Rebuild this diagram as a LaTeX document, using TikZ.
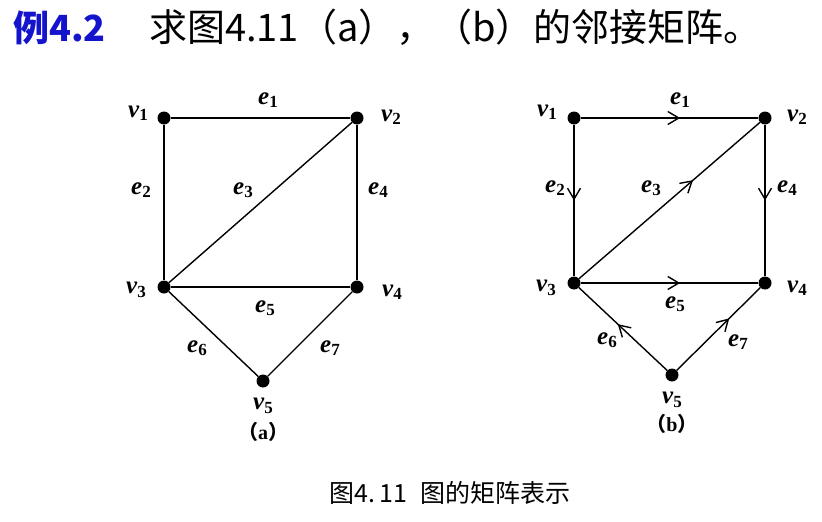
\documentclass[tikz,border=0pt]{standalone}
\usepackage{fontspec}
\setmainfont{Liberation Serif}
\newfontfamily\cjk{Noto Sans CJK SC}
\usetikzlibrary{arrows.meta,decorations.markings}
\definecolor{titleblue}{RGB}{20,20,205}
\tikzset{
  vert/.style={circle, fill=black, inner sep=0pt, minimum size=13pt},
  edge/.style={line width=1.4pt},
  lab/.style={font=\fontsize{25}{25}\selectfont\bfseries\itshape, inner sep=0pt},
  subcap/.style={font=\fontsize{20}{20}\selectfont\bfseries, inner sep=0pt},
  midarrow/.style={postaction={decorate}, decoration={markings,
    mark=at position #1 with {\arrow{Straight Barb[length=11pt,width=13pt,line width=1.4pt]}}}}
}
\newcommand\sub[2]{#1\raisebox{-0.3ex}{\fontsize{17}{17}\selectfont\upshape #2}}

\begin{document}
\begin{tikzpicture}[x=1pt,y=-1pt]
  \useasboundingbox (0,0) rectangle (822,522);
  % title
  \node (ex) [anchor=base west, inner sep=0pt, text=titleblue, font=\cjk\fontsize{36}{36}\selectfont\bfseries] at (13,41) {例4.2};
  \node (task) [anchor=base west, inner sep=0pt, font=\cjk\fontsize{38}{38}\selectfont] at (149,41) {求图4.11（a），（b）的邻接矩阵。};

  % graph (a)
  \node (a1) [vert] at (164,118) {};
  \node (a2) [vert] at (357,118) {};
  \node (a3) [vert] at (164,287) {};
  \node (a4) [vert] at (357,287) {};
  \node (a5) [vert] at (263,381) {};
  \draw[edge] (a1) -- (a2);
  \draw[edge] (a1) -- (a3);
  \draw[edge] (a3) -- (a2);
  \draw[edge] (a2) -- (a4);
  \draw[edge] (a3) -- (a4);
  \draw[edge] (a3) -- (a5);
  \draw[edge] (a5) -- (a4);
  \node (la1) [lab] at (138,113) {\sub{v}{1}};
  \node (la2) [lab] at (391,117) {\sub{v}{2}};
  \node (la3) [lab] at (136,290) {\sub{v}{3}};
  \node (la4) [lab] at (392,292) {\sub{v}{4}};
  \node (la5) [lab] at (263,406) {\sub{v}{5}};
  \node (ea1) [lab] at (268,100) {\sub{e}{1}};
  \node (ea2) [lab] at (141,190) {\sub{e}{2}};
  \node (ea3) [lab] at (243,190) {\sub{e}{3}};
  \node (ea4) [lab] at (378,190) {\sub{e}{4}};
  \node (ea5) [lab] at (265,308) {\sub{e}{5}};
  \node (ea6) [lab] at (197,348) {\sub{e}{6}};
  \node (ea7) [lab] at (330,348) {\sub{e}{7}};
  \node (capa) [subcap] at (263,432) {\cjk（\rmfamily a\cjk）};

  % graph (b)
  \node (b1) [vert] at (574,118) {};
  \node (b2) [vert] at (765,118) {};
  \node (b3) [vert] at (574,283) {};
  \node (b4) [vert] at (765,283) {};
  \node (b5) [vert] at (672,375) {};
  \draw[edge, midarrow=0.56] (b1) -- (b2);
  \draw[edge, midarrow=0.5] (b1) -- (b3);
  \draw[edge, midarrow=0.63] (b3) -- (b2);
  \draw[edge, midarrow=0.5] (b2) -- (b4);
  \draw[edge, midarrow=0.56] (b3) -- (b4);
  \draw[edge, midarrow=0.56] (b5) -- (b3);
  \draw[edge, midarrow=0.63] (b5) -- (b4);
  \node (lb1) [lab] at (547,112) {\sub{v}{1}};
  \node (lb2) [lab] at (797,117) {\sub{v}{2}};
  \node (lb3) [lab] at (546,288) {\sub{v}{3}};
  \node (lb4) [lab] at (797,288) {\sub{v}{4}};
  \node (lb5) [lab] at (672,400) {\sub{v}{5}};
  \node (eb1) [lab] at (680,100) {\sub{e}{1}};
  \node (eb2) [lab] at (555,188) {\sub{e}{2}};
  \node (eb3) [lab] at (651,188) {\sub{e}{3}};
  \node (eb4) [lab] at (787,188) {\sub{e}{4}};
  \node (eb5) [lab] at (675,304) {\sub{e}{5}};
  \node (eb6) [lab] at (607,340) {\sub{e}{6}};
  \node (eb7) [lab] at (738,342) {\sub{e}{7}};
  \node (capb) [subcap] at (672,424) {\cjk（\rmfamily b\cjk）};

  % caption
  \node (fig) [inner sep=0pt, font=\cjk\fontsize{25}{25}\selectfont] at (450,493) {图4.\,11\hspace{0.5em}图的矩阵表示};
\end{tikzpicture}
\end{document}
